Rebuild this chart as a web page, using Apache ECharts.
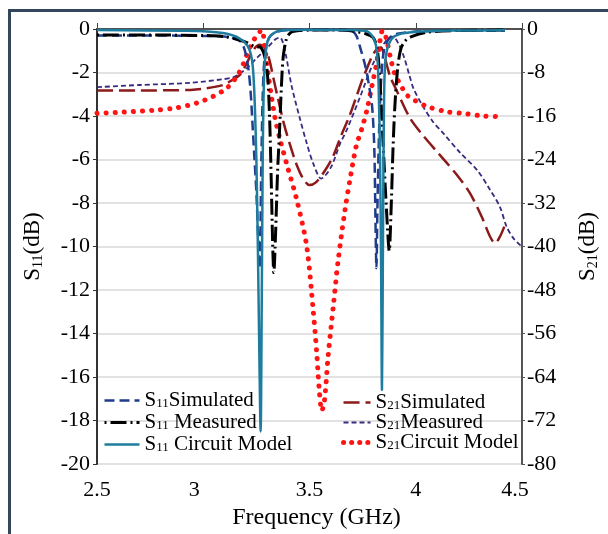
<html>
<head>
    <meta charset="utf-8">
    <title>S11 / S21</title>
    <style type="text/css">
        body { margin: 0; background: #fff; }
        #chart { width: 608px; height: 534px; }
    </style>
</head>
<body>
    <div id="chart"></div>
</body>
</html>

<script src="https://cdn.jsdelivr.net/npm/echarts@6/dist/echarts.min.js"></script>
<script>

    // S11 simulated (dB, left axis)
    var s11SimFreq = [2.5, 2.8, 3.0, 3.1, 3.15, 3.18, 3.196, 3.212, 3.223, 3.232, 3.24, 3.25, 3.258, 3.266, 3.272, 3.28, 3.29, 3.31, 3.34, 3.4, 3.6, 3.7, 3.72, 3.74, 3.765, 3.78, 3.795, 3.805, 3.81, 3.815, 3.82, 3.828, 3.838, 3.85, 3.87, 3.9, 4.0, 4.2, 4.42];
    var s11SimVal = [-0.3, -0.3, -0.32, -0.35, -0.45, -0.62, -1.0, -1.8, -2.9, -4.4, -5.8, -7.5, -9.5, -11, -7, -3, -1.2, -0.4, -0.15, -0.05, -0.05, -0.1, -0.3, -0.9, -1.8, -2.6, -3.6, -5.5, -8.5, -11, -8, -4.5, -2.2, -1.0, -0.5, -0.25, -0.12, -0.08, -0.08];

    // S11 measured
    var s11MeasFreq = [2.5, 2.8, 3.0, 3.1, 3.15, 3.2, 3.24, 3.27, 3.29, 3.303, 3.312, 3.32, 3.327, 3.332, 3.34, 3.35, 3.358, 3.368, 3.376, 3.39, 3.403, 3.42, 3.5, 3.65, 3.72, 3.76, 3.8, 3.82, 3.835, 3.85, 3.865, 3.875, 3.885, 3.893, 3.902, 3.915, 3.93, 3.95, 3.98, 4.05, 4.2, 4.42];
    var s11MeasVal = [-0.28, -0.28, -0.3, -0.35, -0.45, -0.6, -0.8, -0.85, -1.3, -2.2, -4, -7, -10, -11.2, -9.5, -6.5, -4.9, -2.6, -1.3, -0.5, -0.25, -0.12, -0.05, -0.05, -0.12, -0.2, -0.4, -1.0, -3, -6, -8.8, -10.2, -8, -5.5, -3.5, -1.8, -0.9, -0.55, -0.35, -0.15, -0.07, -0.05];

    // S11 circuit model
    var s11CmFreq = [2.5, 2.9, 3.0, 3.1, 3.17, 3.21, 3.228, 3.236, 3.243, 3.25, 3.257, 3.264, 3.27, 3.275, 3.279, 3.283, 3.29, 3.305, 3.34, 3.4, 3.5, 3.7, 3.77, 3.79, 3.805, 3.817, 3.825, 3.832, 3.837, 3.841, 3.845, 3.849, 3.853, 3.86, 3.875, 3.9, 3.95, 4.05, 4.2, 4.42];
    var s11CmVal = [-0.05, -0.08, -0.1, -0.2, -0.43, -0.8, -1.35, -2.1, -3.6, -6, -10, -15, -18.5, -13, -7, -3.5, -1.5, -0.5, -0.14, -0.05, -0.04, -0.05, -0.1, -0.25, -0.5, -1.0, -2.5, -6, -11, -16.6, -11, -5, -2.2, -1.2, -0.65, -0.33, -0.18, -0.1, -0.07, -0.06];

    // S21 simulated (dB, right axis)
    var s21SimFreq = [2.5, 2.7, 2.94, 3.0, 3.094, 3.14, 3.173, 3.205, 3.235, 3.265, 3.29, 3.31, 3.33, 3.35, 3.38, 3.41, 3.44, 3.47, 3.5, 3.53, 3.57, 3.61, 3.65, 3.69, 3.72, 3.75, 3.775, 3.8, 3.82, 3.835, 3.85, 3.865, 3.88, 3.91, 3.97, 4.02, 4.114, 4.193, 4.255, 4.31, 4.35, 4.373, 4.396, 4.42];
    var s21SimVal = [-11.3, -11.3, -11.2, -11.0, -10.3, -9.3, -8.4, -6.3, -3.9, -2.9, -3.5, -5.5, -9, -12.5, -17.5, -21.5, -25, -27.5, -28.7, -28.2, -26.2, -23.5, -19.5, -15.8, -12.5, -9.2, -6.8, -4.6, -3.6, -3.4, -4.6, -6.8, -8.8, -11.3, -16.2, -18.9, -23.2, -26.8, -30.2, -34.5, -38.2, -39.4, -38.2, -36];

    // S21 measured
    var s21MeasFreq = [2.5, 2.7, 2.94, 3.09, 3.14, 3.16, 3.205, 3.25, 3.3, 3.34, 3.362, 3.375, 3.39, 3.416, 3.455, 3.487, 3.52, 3.555, 3.6, 3.645, 3.675, 3.738, 3.8, 3.863, 3.893, 3.92, 3.945, 3.97, 3.99, 4.035, 4.08, 4.13, 4.21, 4.29, 4.35, 4.396, 4.428, 4.46, 4.49, 4.5];
    var s21MeasVal = [-10.7, -10.3, -9.9, -9.25, -8.9, -8.5, -7.2, -5.4, -3.5, -1.9, -1.6, -2.5, -5, -10.5, -16.5, -21, -25, -27.5, -25.5, -21, -18.6, -12.5, -6.3, -2.0, -1.4, -2.8, -5.2, -8.5, -11, -14.3, -17, -19.2, -22.8, -26, -29.6, -32.7, -36.4, -38.5, -39.7, -40];

    // S21 circuit model
    var s21CmFreq = [2.5, 2.62, 2.78, 2.875, 2.97, 3.046, 3.11, 3.157, 3.19, 3.22, 3.25, 3.275, 3.29, 3.306, 3.322, 3.338, 3.36, 3.394, 3.44, 3.487, 3.518, 3.534, 3.546, 3.558, 3.57, 3.588, 3.612, 3.635, 3.667, 3.69, 3.72, 3.745, 3.77, 3.793, 3.816, 3.83, 3.84, 3.848, 3.863, 3.88, 3.9, 3.933, 3.957, 3.99, 4.05, 4.145, 4.24, 4.316, 4.405];
    var s21CmVal = [-15.5, -15.3, -14.9, -14.5, -13.6, -12.4, -10.9, -8.8, -6.3, -3.3, -1.3, -0.2, -3.5, -8.5, -12.7, -16.4, -20.1, -25, -31.4, -40, -52, -59.6, -66.4, -70.2, -68.5, -60, -51, -42.5, -33.3, -27.8, -21.5, -18.5, -14.9, -10.6, -6.3, -2.6, -0.5, -0.3, -2.0, -5.1, -8.1, -10.6, -12.1, -13, -14.2, -15.2, -15.6, -16, -16.1];

    var freqTicks = [2.5, 3, 3.5, 4, 4.5];
    // nudge (px) of each frequency label, as in the source figure
    var freqLabelShift = { '2.5': 0, '3': -9, '3.5': 0, '4': 2, '4.5': -7 };

    var serif = '"Liberation Serif", "Times New Roman", serif';

    // name, colour, width, dash
    var styles = {
        'S11 Simulated': ['#1f3d8c', 2.5, [10, 5]],
        'S11 Measured': ['#000000', 3, [2, 4, 16, 4]],
        'S11 Circuit Model': ['#1e7d9e', 2.5, 'solid'],
        'S21 Simulated': ['#8c1a1a', 2.5, [16, 6]],
        'S21 Measured': ['#3a2a80', 1.8, [5, 3]],
        'S21 Circuit Model': ['#ff1414', 5, [0.1, 9]]
    };

    function pairs(f, v) {
        return f.map(function (x, i) { return [x, v[i]]; });
    }

    function lineStyleOf(name) {
        var s = styles[name];
        return { color: s[0], width: s[1], type: s[2], cap: s[2] !== 'solid' && s[2][0] < 1 ? 'round' : 'butt' };
    }

    function line(name, f, v, axis, z) {
        return {
            name: name,
            type: 'line',
            yAxisIndex: axis,
            data: pairs(f, v),
            symbol: 'none',
            smooth: 0.3,
            z: z,
            lineStyle: lineStyleOf(name),
            itemStyle: { color: styles[name][0] }
        };
    }

    // legend label: S + subscript + rest
    var legendParts = {
        'S11 Simulated': ['11', 'Simulated'],
        'S11 Measured': ['11', ' Measured'],
        'S11 Circuit Model': ['11', ' Circuit Model'],
        'S21 Simulated': ['21', 'Simulated'],
        'S21 Measured': ['21', 'Measured'],
        'S21 Circuit Model': ['21', 'Circuit Model']
    };

    var rich = {
        s: { fontFamily: serif, fontSize: 21, color: '#000', lineHeight: 20 },
        sub: { fontFamily: serif, fontSize: 13, color: '#000', lineHeight: 20, verticalAlign: 'bottom' }
    };

    var nameRich = {
        s: { fontFamily: serif, fontSize: 23, color: '#000', lineHeight: 24 },
        sub: { fontFamily: serif, fontSize: 14, color: '#000', lineHeight: 24, verticalAlign: 'bottom' }
    };

    function legendFmt(name) {
        var p = legendParts[name];
        return '{s|S}{sub|' + p[0] + '}{s|' + p[1] + '}';
    }

    var hiddenSymbol = { color: 'rgba(0,0,0,0)', borderColor: 'rgba(0,0,0,0)', borderWidth: 0 };

    function legendItems(names) {
        return names.map(function (n) {
            var ls = lineStyleOf(n);
            if (n === 'S21 Circuit Model') ls.type = [0.1, 8];
            return { name: n, lineStyle: ls, itemStyle: hiddenSymbol };
        });
    }

    var option = {
        animation: false,
        backgroundColor: '#fff',
        graphic: [{
            type: 'rect',
            shape: { x: 9.5, y: 10.5, width: 700, height: 600 },
            style: { fill: 'none', stroke: '#34465a', lineWidth: 3 },
            silent: true
        }],
        grid: { left: 97, right: 86, top: 29, bottom: 70, outerBoundsMode: 'none' },
        legend: [{
            orient: 'vertical',
            left: 98,
            top: 385,
            itemWidth: 35,
            itemHeight: 14,
            itemGap: 1,
            data: legendItems(['S11 Simulated', 'S11 Measured', 'S11 Circuit Model']),
            formatter: legendFmt,
            itemStyle: hiddenSymbol,
            textStyle: { rich: rich }
        }, {
            orient: 'vertical',
            left: 336,
            top: 387,
            itemWidth: 27,
            itemHeight: 14,
            itemGap: -1,
            data: legendItems(['S21 Simulated', 'S21 Measured', 'S21 Circuit Model']),
            formatter: legendFmt,
            itemStyle: hiddenSymbol,
            textStyle: { rich: rich }
        }],
        xAxis: {
            type: 'value',
            min: 2.5,
            max: 4.5,
            interval: 0.5,
            name: 'Frequency (GHz)',
            nameLocation: 'middle',
            nameGap: 42,
            nameTextStyle: { fontFamily: serif, fontSize: 24, color: '#000', padding: [0, 0, 0, 14] },
            axisLine: { lineStyle: { color: '#222', width: 1.5 } },
            axisTick: { inside: true, length: 6, lineStyle: { color: '#444' } },
            axisLabel: {
                margin: 15,
                formatter: function (v) {
                    var d = freqLabelShift[String(v)] || 0;
                    return d < 0 ? '{r|' + v + '}' + '{p' + (-d * 2) + '|}' : '{r|' + v + '}';
                },
                rich: {
                    r: { fontFamily: serif, fontSize: 22, color: '#000' },
                    p18: { width: 18 },
                    p14: { width: 14 }
                }
            },
            splitLine: { show: false }
        },
        yAxis: [{
            type: 'value',
            position: 'left',
            min: -20,
            max: 0,
            interval: 2,
            name: '{s|S}{sub|11}{s|(dB)}',
            nameLocation: 'middle',
            nameRotate: 90,
            nameGap: 52,
            nameTextStyle: { rich: nameRich },
            axisLine: { show: true, lineStyle: { color: '#333', width: 2 } },
            axisTick: { show: true, length: 4, lineStyle: { color: '#333' } },
            axisLabel: { fontFamily: serif, fontSize: 22, color: '#000', margin: 7 },
            splitLine: { lineStyle: { color: '#d9d9d9', width: 1.5 } }
        }, {
            type: 'value',
            position: 'right',
            min: -80,
            max: 0,
            interval: 8,
            name: '{s|S}{sub|21}{s|(dB)}',
            nameLocation: 'middle',
            nameRotate: 90,
            nameGap: 54,
            nameTextStyle: { rich: nameRich },
            axisLine: { show: true, lineStyle: { color: '#555', width: 2 } },
            axisTick: { show: true, length: 3, lineStyle: { color: '#555' } },
            axisLabel: { fontFamily: serif, fontSize: 22, color: '#000', margin: 5 },
            splitLine: { show: false }
        }],
        series: [
            line('S21 Measured', s21MeasFreq, s21MeasVal, 1, 2),
            line('S21 Simulated', s21SimFreq, s21SimVal, 1, 3),
            line('S21 Circuit Model', s21CmFreq, s21CmVal, 1, 4),
            line('S11 Simulated', s11SimFreq, s11SimVal, 0, 5),
            line('S11 Measured', s11MeasFreq, s11MeasVal, 0, 6),
            line('S11 Circuit Model', s11CmFreq, s11CmVal, 0, 7)
        ]
    };

    var chart = echarts.init(document.getElementById('chart'));
    chart.setOption(option);

</script>
